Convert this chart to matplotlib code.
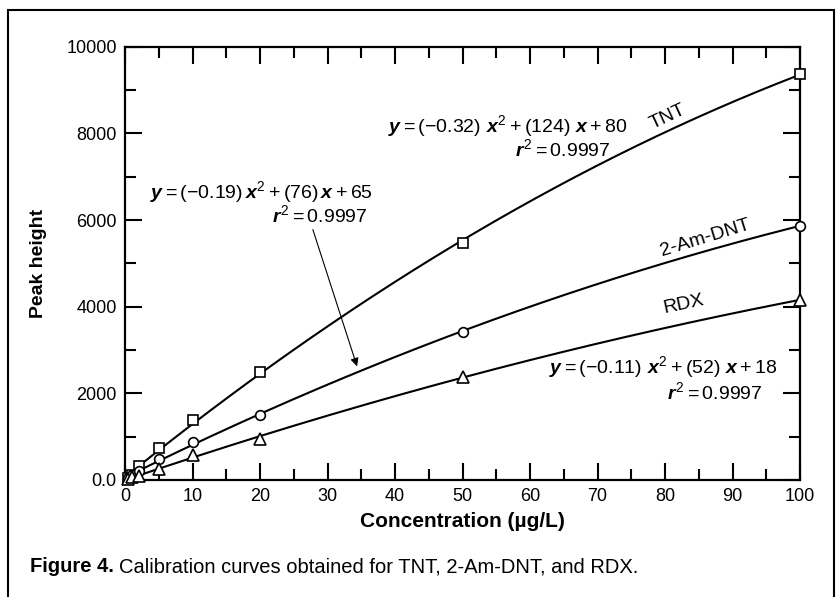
import numpy as np
import matplotlib
matplotlib.use("Agg")
from matplotlib import pyplot as plt
from matplotlib.patches import Rectangle

# values
conc = [0.5, 1, 2, 5, 10, 20, 50, 100]
tnt = [50, 115, 323, 746, 1385, 2500, 5462, 9370]
am_dnt = [45, 120, 208, 477, 884, 1500, 3423, 5869]
rdx = [20, 60, 92, 254, 577, 946, 2385, 4154]

x_ticks = [0, 10, 20, 30, 40, 50, 60, 70, 80, 90, 100]
y_ticks = [0, 2000, 4000, 6000, 8000, 10000]
y_tick_labels = ["0.0", "2000", "4000", "6000", "8000", "10000"]

plt.rcParams["font.family"] = ["Liberation Sans", "DejaVu Sans"]
plt.rcParams["mathtext.fontset"] = "custom"
plt.rcParams["mathtext.rm"] = "Liberation Sans"
plt.rcParams["mathtext.it"] = "Liberation Sans:bold:italic"
plt.rcParams["mathtext.bf"] = "Liberation Sans:bold"

fig = plt.figure(figsize=(8.38, 5.97), dpi=100)
ax = fig.add_axes([0.1492, 0.196, 0.8055, 0.7258])

xs = np.linspace(0.5, 100, 300)
for ys, marker, ms in [(tnt, "s", 7), (am_dnt, "o", 7), (rdx, "^", 8)]:
    fit = np.polyfit(conc, ys, 2)
    ax.plot(xs, np.polyval(fit, xs), color="black", lw=1.5, zorder=2)
    ax.plot(conc, ys, linestyle="none", marker=marker, ms=ms, mfc="white",
            mec="black", mew=1.2, zorder=3, clip_on=False)

ax.set_xlim(0, 100)
ax.set_ylim(0, 10000)
ax.set_xticks(x_ticks)
ax.set_xticks(np.arange(5, 100, 10), minor=True)
ax.set_yticks(y_ticks)
ax.set_yticklabels(y_tick_labels)
ax.set_yticks(np.arange(1000, 10000, 2000), minor=True)
ax.tick_params(which="both", direction="in", top=True, right=True, width=1.5,
               labelsize=13, pad=6)
ax.tick_params(which="major", length=12.5)
ax.tick_params(which="minor", length=8)
for s in ax.spines.values():
    s.set_linewidth(1.6)

ax.set_xlabel("Concentration (\u00b5g/L)", fontsize=15, fontweight="bold", labelpad=5)
ax.set_ylabel("Peak height", fontsize=14, fontweight="bold", labelpad=14)

# curve names
ax.text(80.4, 8377, "TNT", fontsize=14, rotation=25, ha="center", va="center")
ax.text(86, 5585, "2-Am-DNT", fontsize=14, rotation=17, ha="center", va="center")
ax.text(82.7, 4062, "RDX", fontsize=14, rotation=12, ha="center", va="center")

# fit equations
eq_size = 14
ax.text(74.5, 8170, r"$y = (-0.32)\ x^2 + (124)\ x + 80$", fontsize=eq_size, ha="right", va="center")
ax.text(71.9, 7640, r"$r^2 = 0.9997$", fontsize=eq_size, ha="right", va="center")
ax.text(36.7, 6646, r"$y = (-0.19)\,x^2 + (76)\,x + 65$", fontsize=eq_size, ha="right", va="center")
ax.text(35.9, 6116, r"$r^2 = 0.9997$", fontsize=eq_size, ha="right", va="center")
ax.text(96.7, 2608, r"$y = (-0.11)\ x^2 + (52)\ x + 18$", fontsize=eq_size, ha="right", va="center")
ax.text(94.5, 2031, r"$r^2 = 0.9997$", fontsize=eq_size, ha="right", va="center")

ax.annotate("", xy=(34.5, 2562), xytext=(27.7, 5839),
            arrowprops=dict(arrowstyle="-|>", color="black", lw=0.8,
                            mutation_scale=12))

# caption, second part placed right after the bold part
cap = fig.text(30 / 838, 1 - 567 / 597, "Figure 4.", fontsize=14.5, fontweight="bold",
               va="center")
ax.annotate("Calibration curves obtained for TNT, 2-Am-DNT, and RDX.", xy=(1, 0),
            xycoords=cap, xytext=(4, 0), textcoords="offset points", fontsize=14.5,
            va="bottom", ha="left", annotation_clip=False)

# frame around the figure
fig.patches.append(Rectangle((8 / 838, -0.05), 826 / 838, 1.05 - 10 / 597,
                             transform=fig.transFigure, fill=False, lw=1.5,
                             edgecolor="black"))

fig.savefig("out.png", dpi=100)
